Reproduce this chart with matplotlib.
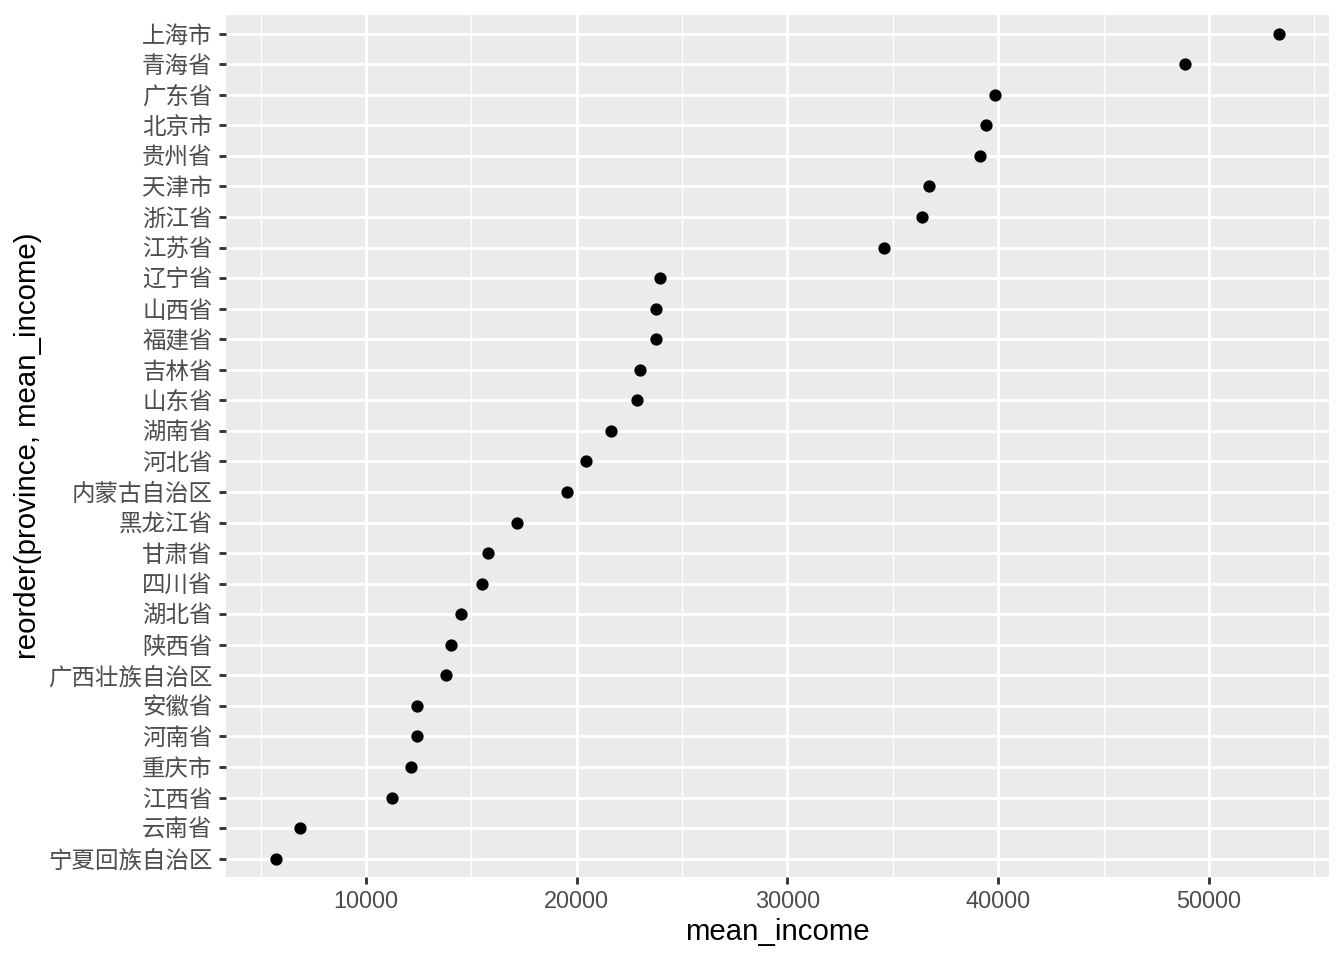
import numpy as np
import matplotlib.pyplot as plt
from matplotlib.ticker import MultipleLocator

plt.rcParams['font.family'] = ['Liberation Sans', 'Noto Sans CJK SC', 'DejaVu Sans']

# dados (de baixo para cima, ordenados por renda média)
provincias = ['宁夏回族自治区', '云南省', '江西省', '重庆市', '河南省', '安徽省',
              '广西壮族自治区', '陕西省', '湖北省', '四川省', '甘肃省', '黑龙江省',
              '内蒙古自治区', '河北省', '湖南省', '山东省', '吉林省', '福建省',
              '山西省', '辽宁省', '江苏省', '浙江省', '天津市', '贵州省',
              '北京市', '广东省', '青海省', '上海市']
renda_media = [5730, 6870, 11230, 12140, 12400, 12420,
               13800, 14030, 14510, 15510, 15790, 17170,
               19540, 20440, 21630, 22860, 23000, 23750,
               23760, 23950, 34580, 36390, 36720, 39140,
               39430, 39850, 48870, 53330]

fig = plt.figure(figsize=(7, 5), dpi=192)
ax = fig.add_axes([0.168, 0.0865, 0.821, 0.8975])
ax.set_facecolor('#EBEBEB')

y = np.arange(len(provincias))
ax.scatter(renda_media, y, s=4.6**2, color='black', zorder=3, linewidths=0)

# limites com expansão estilo ggplot
lo, hi = min(renda_media), max(renda_media)
pad = (hi - lo) * 0.05
ax.set_xlim(lo - pad, hi + pad)
ax.set_ylim(-0.6, len(provincias) - 0.4)

ax.xaxis.set_major_locator(MultipleLocator(10000))
ax.xaxis.set_minor_locator(MultipleLocator(5000))
ax.set_yticks(y)
ax.set_yticklabels(provincias)

ax.grid(which='major', color='white', linewidth=1.07)
ax.grid(which='minor', axis='x', color='white', linewidth=0.53)
ax.set_axisbelow(True)
for s in ax.spines.values():
    s.set_visible(False)

ax.tick_params(which='major', length=2.75, width=1.07, color='#333333',
               labelsize=8.8, labelcolor='#4D4D4D', pad=2.2)
ax.tick_params(which='minor', length=0)

ax.set_xlabel('mean_income', fontsize=11, color='black', labelpad=1.8)
ax.set_ylabel('reorder(province, mean_income)', fontsize=11, color='black', labelpad=2.2)

fig.savefig('out.png', dpi=192)
